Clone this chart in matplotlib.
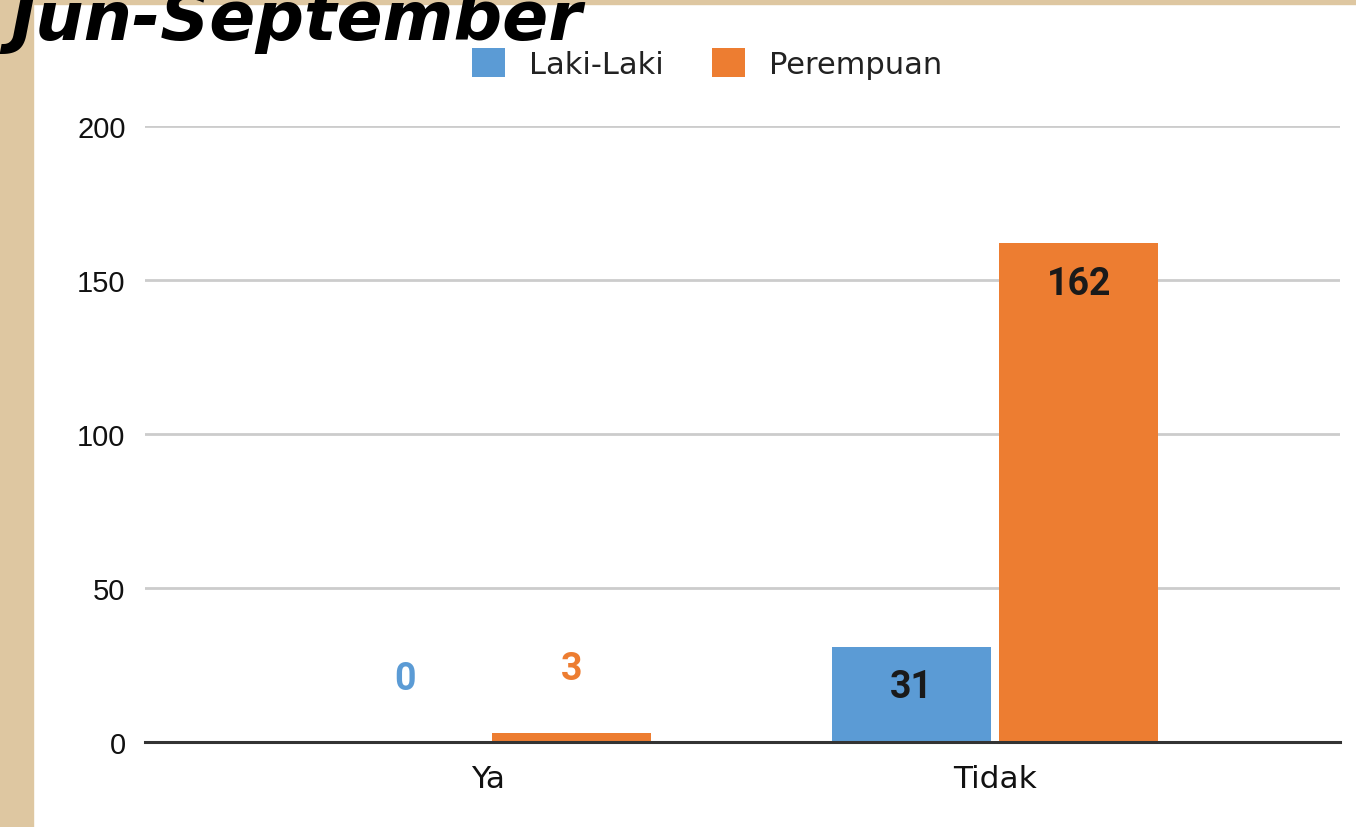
import matplotlib
matplotlib.use('Agg')
import matplotlib.pyplot as plt
from matplotlib.patches import Rectangle
import numpy as np

# --- data ---
categories = ['Ya', 'Tidak']
series_names = ['Laki-Laki', 'Perempuan']
laki = [0, 31]
perempuan = [3, 162]
y_ticks = [0, 50, 100, 150, 200]
title = 'Jun-September'

BLUE = '#5B9BD5'
ORANGE = '#ED7D31'
TAN = '#DEC7A1'

fig = plt.figure(figsize=(13.56, 8.28), dpi=100)
fig.patch.set_facecolor('white')

# tan frame on the left and top
fig.add_artist(Rectangle((0, 0), 33 / 1356, 1, transform=fig.transFigure,
                         color=TAN, zorder=0))
fig.add_artist(Rectangle((0, 1 - 5 / 828), 1, 5 / 828, transform=fig.transFigure,
                         color=TAN, zorder=0))

ax = fig.add_axes([145 / 1356, 1 - 743 / 828, 1195 / 1356, (743 - 127) / 828])
ax.set_facecolor('white')

x = np.arange(len(categories))
w = 0.314
off = 0.165
b1 = ax.bar(x - off, laki, w, color=BLUE, label=series_names[0], zorder=3)
b2 = ax.bar(x + off, perempuan, w, color=ORANGE, label=series_names[1], zorder=3)

ax.set_xlim(-0.677, 1.68)
ax.set_ylim(0, 200)
ax.set_yticks(y_ticks)
ax.set_xticks(x)
ax.set_xticklabels(categories, fontsize=22.5, color='#111111')
ax.tick_params(axis='y', length=0, pad=14, labelsize=21, labelcolor='#111111')
ax.tick_params(axis='x', length=0, pad=16)
for lab in ax.get_yticklabels():
    lab.set_family('Liberation Sans')

ax.grid(True, axis='y', color='#CCCCCC', linewidth=2, zorder=0)
ax.set_axisbelow(True)
for s in ['top', 'right', 'left']:
    ax.spines[s].set_visible(False)
ax.spines['bottom'].set_color('#333333')
ax.spines['bottom'].set_linewidth(2.2)
ax.spines['bottom'].set_zorder(4)

# value labels
for bars, vals, col in [(b1, laki, BLUE), (b2, perempuan, ORANGE)]:
    for bar, v in zip(bars, vals):
        cx = bar.get_x() + bar.get_width() / 2
        if v > 20:
            ax.annotate(str(v), (cx, v), xytext=(0, -29), textcoords='offset points',
                        ha='center', va='center', fontsize=27, fontweight='bold',
                        family='Roboto', color='#1a1a1a', zorder=5)
        else:
            ax.annotate(str(v), (cx, v), xytext=(0, 46), textcoords='offset points',
                        ha='center', va='center', fontsize=27, fontweight='bold',
                        family='Roboto', color=col, zorder=5)

leg = ax.legend(loc='center', bbox_to_anchor=(0.5214, 0.922), bbox_transform=fig.transFigure,
                ncol=2, frameon=False, fontsize=22, handlelength=1.08, handleheight=1.08,
                handletextpad=0.79, columnspacing=1.57, borderpad=0)
for t in leg.get_texts():
    t.set_color('#222222')

fig.text(10 / 1356, 1 - 40 / 828, title, fontsize=49, fontweight='bold',
         fontstyle='italic', va='baseline', ha='left', color='black')

fig.savefig('out.png', dpi=100)
